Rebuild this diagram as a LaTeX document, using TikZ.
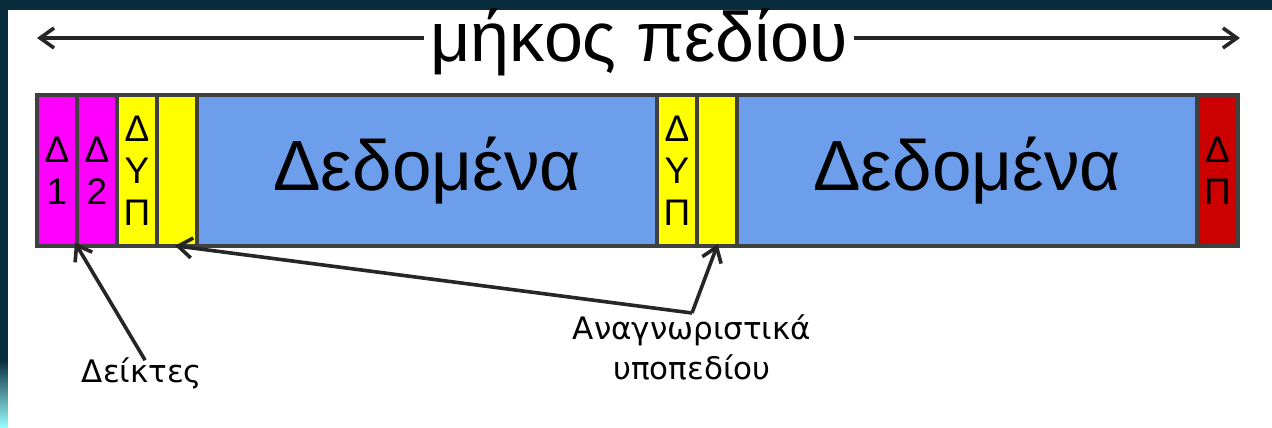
\documentclass[tikz,border=0pt]{standalone}
\usepackage{fontspec}
\setmainfont{Liberation Sans}
\newfontfamily\labelfont{DejaVu Sans}
\usetikzlibrary{positioning,arrows.meta}

\definecolor{bgdark}{RGB}{10,45,62}
\definecolor{fieldmag}{RGB}{255,0,255}
\definecolor{fieldyel}{RGB}{255,255,0}
\definecolor{fieldblue}{RGB}{109,158,235}
\definecolor{fieldred}{RGB}{204,0,0}
\definecolor{cellline}{RGB}{64,64,64}

\tikzset{
  cell/.style={draw=cellline, line width=3.2pt, minimum height=151pt, outer sep=0pt,
    inner sep=0pt, align=center, font=\fontsize{37}{42}\selectfont},
  narrow/.style={cell, minimum width=40pt},
  wide/.style={cell, minimum width=460pt, font=\fontsize{71}{80}\selectfont},
  lbl/.style={align=center, font=\labelfont\fontsize{31}{40}\selectfont, inner sep=2pt},
  pointer/.style={line width=3.6pt, draw=black!85, -{Straight Barb[length=14pt,width=20pt]}},
}

\begin{document}
\begin{tikzpicture}[x=1pt, y=-1pt]
        \useasboundingbox (0,0) rectangle (1272,428);
        \fill[bgdark] (0,0) rectangle (1272,428);
        \shade[top color=bgdark, bottom color=cyan!40!white] (0,360) rectangle (8,428);
        \fill[white] (8,10) rectangle (1272,428);

        % length of the field
        \coordinate (lend) at (37,38);
        \coordinate (rend) at (1240,38);
        \node[font=\fontsize{70}{84}\selectfont, inner sep=6pt, anchor=base] (title) at (639,62) {μήκος πεδίου};
        \draw[pointer] (title.west |- lend) -- (lend);
        \draw[pointer] (title.east |- rend) -- (rend);

        % the subfields
        \node[narrow, fill=fieldmag, anchor=west] (d1) at (37,170.5) {Δ\\1};
        \node[narrow, fill=fieldmag, right=0pt of d1] (d2) {Δ\\2};
        \node[narrow, fill=fieldyel, right=0pt of d2] (dyp1) {Δ\\Υ\\Π};
        \node[narrow, fill=fieldyel, right=0pt of dyp1] (sub1) {};
        \node[wide, fill=fieldblue, right=0pt of sub1] (data1) {Δεδομένα};
        \node[narrow, fill=fieldyel, right=0pt of data1] (dyp2) {Δ\\Υ\\Π};
        \node[narrow, fill=fieldyel, right=0pt of dyp2] (sub2) {};
        \node[wide, fill=fieldblue, right=0pt of sub2] (data2) {Δεδομένα};
        \node[narrow, fill=fieldred, minimum width=41pt, right=0pt of data2] (dp) {Δ\\Π};

        % labels below
        \node[lbl, anchor=base] (deiktes) at (142,382) {Δείκτες};
        \node[lbl, anchor=north] (anagn) at (692,313) {Αναγνωριστικά\\υποπεδίου};
        \draw[pointer, shorten <=-6pt, shorten >=-4pt] (deiktes.north) -- (d1.south east);
        \draw[pointer, shorten >=-2pt] (anagn.north) -- (sub1.south);
        \draw[pointer, shorten >=-2pt] (anagn.north) -- (sub2.south);
\end{tikzpicture}
\end{document}
